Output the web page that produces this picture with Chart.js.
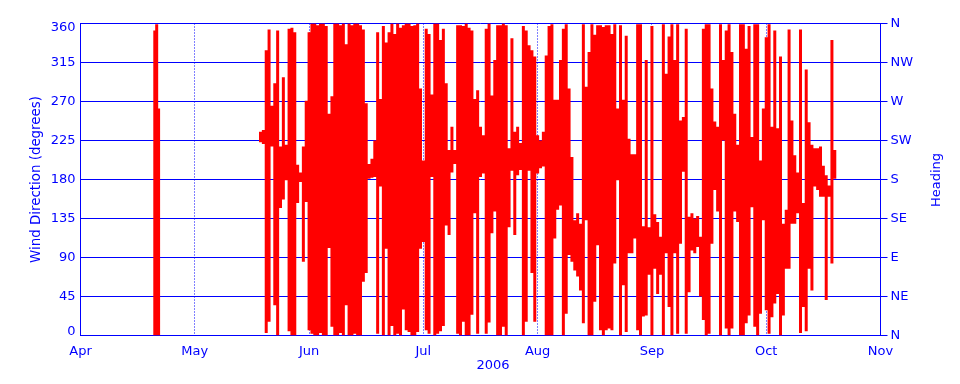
<!DOCTYPE html>
<html>
<head>
<meta charset="utf-8">
<style>
  html, body { margin: 0; padding: 0; background: #fff; }
  canvas { display: block; }
</style>
<script src="https://cdn.jsdelivr.net/npm/chart.js@4/dist/chart.umd.js"></script>
</head>
<body>
<canvas id="myChart" width="960" height="384"></canvas>
<script>
// month axis is evenly spaced in the plot, so 30 units per month
const monthLabels = ['Apr', 'May', 'Jun', 'Jul', 'Aug', 'Sep', 'Oct', 'Nov'];
const directionTicks = ['0', '45', '90', '135', '180', '225', '270', '315', '360'];
const headingTicks = ['N', 'NE', 'E', 'SE', 'S', 'SW', 'W', 'NW', 'N'];

// one entry per sampling interval: day, highest and lowest direction seen in it
const sampleDays = [
  19.5, 20, 20.5,
  47.25, 48, 48.75, 49.5, 50.25, 51, 51.75, 52.5, 53.25, 54, 54.75, 55.5,
  56.25, 57, 57.75, 58.5, 59.25, 60, 60.75, 61.5, 62.25, 63, 63.75, 64.5,
  65.25, 66, 66.75, 67.5, 68.25, 69, 69.75, 70.5, 71.25, 72, 72.75, 73.5,
  74.25, 75, 75.75, 76.5, 77.25, 78, 78.75, 79.5, 80.25, 81, 81.75, 82.5,
  83.25, 84, 84.75, 85.5, 86.25, 87, 87.75, 88.5, 89.25, 90, 90.75, 91.5,
  92.25, 93, 93.75, 94.5, 95.25, 96, 96.75, 97.5, 98.25, 99, 99.75, 100.5,
  101.25, 102, 102.75, 103.5, 104.25, 105, 105.75, 106.5, 107.25, 108, 108.75, 109.5,
  110.25, 111, 111.75, 112.5, 113.25, 114, 114.75, 115.5, 116.25, 117, 117.75, 118.5,
  119.25, 120, 120.75, 121.5, 122.25, 123, 123.75, 124.5, 125.25, 126, 126.75, 127.5,
  128.25, 129, 129.75, 130.5, 131.25, 132, 132.75, 133.5, 134.25, 135, 135.75, 136.5,
  137.25, 138, 138.75, 139.5, 140.25, 141, 141.75, 142.5, 143.25, 144, 144.75, 145.5,
  146.25, 147, 147.75, 148.5, 149.25, 150, 150.75, 151.5, 152.25, 153, 153.75, 154.5,
  155.25, 156, 156.75, 157.5, 158.25, 159, 159.75, 160.5, 161.25, 162, 162.75, 163.5,
  164.25, 165, 165.75, 166.5, 167.25, 168, 168.75, 169.5, 170.25, 171, 171.75, 172.5,
  173.25, 174, 174.75, 175.5, 176.25, 177, 177.75, 178.5, 179.25, 180, 180.75, 181.5,
  182.25, 183, 183.75, 184.5, 185.25, 186, 186.75, 187.5, 188.25, 189, 189.75, 190.5,
  191.25, 192, 192.75, 193.5, 194.25, 195, 195.75, 196.5, 197.25, 198
];
const directionHigh = [
  352, 359, 262,
  235, 237, 329, 353, 265, 291, 352, 218, 298, 220, 354, 355,
  350, 197, 188, 218, 271, 350, 360, 360, 358, 360, 360, 357,
  256, 276, 360, 360, 358, 360, 336, 360, 358, 360, 360, 358,
  353, 268, 198, 204, 225, 350, 273, 357, 338, 350, 360, 348,
  360, 355, 358, 360, 360, 357, 358, 360, 285, 202, 354, 348,
  278, 360, 360, 341, 354, 291, 214, 241, 214, 358, 358, 357,
  360, 355, 352, 273, 283, 241, 231, 354, 360, 277, 318, 358,
  358, 360, 358, 216, 343, 235, 241, 222, 357, 352, 335, 329,
  322, 231, 225, 235, 323, 357, 359, 272, 272, 318, 354, 359,
  285, 206, 133, 141, 129, 359, 287, 327, 359, 347, 358, 358,
  356, 358, 358, 348, 359, 262, 358, 272, 346, 227, 209, 209,
  359, 359, 126, 318, 125, 357, 140, 131, 114, 359, 302, 345,
  359, 318, 359, 248, 252, 354, 137, 141, 135, 138, 114, 354,
  359, 359, 285, 247, 241, 359, 318, 352, 359, 327, 256, 220,
  359, 359, 331, 357, 229, 359, 359, 202, 262, 344, 359, 241,
  352, 239, 322, 129, 145, 353, 248, 208, 188, 353, 153, 307,
  246, 220, 216, 216, 218, 196, 185, 173, 341, 214
];
const directionLow = [
  0, 0, 0,
  223, 221, 3, 16, 218, 35, 0, 147, 157, 179, 5, 0,
  0, 153, 177, 85, 154, 6, 2, 0, 0, 3, 0, 0,
  101, 10, 0, 0, 3, 0, 35, 0, 0, 2, 0, 0,
  62, 72, 181, 182, 183, 2, 172, 0, 100, 0, 11, 0,
  2, 0, 30, 6, 4, 0, 0, 4, 100, 108, 6, 2,
  183, 0, 2, 5, 11, 127, 116, 188, 198, 2, 0, 16,
  0, 0, 24, 141, 2, 183, 187, 2, 15, 118, 143, 0,
  0, 10, 0, 125, 190, 116, 185, 191, 0, 16, 190, 72,
  16, 187, 193, 195, 0, 0, 0, 112, 145, 150, 0, 25,
  93, 85, 75, 68, 52, 14, 133, 0, 0, 39, 104, 6,
  0, 6, 8, 6, 83, 179, 0, 58, 4, 95, 95, 112,
  6, 0, 22, 23, 70, 0, 77, 48, 70, 0, 95, 33,
  0, 95, 2, 106, 189, 2, 50, 98, 95, 102, 45, 18,
  0, 2, 106, 168, 143, 0, 225, 8, 0, 8, 143, 131,
  0, 0, 14, 23, 148, 10, 0, 25, 133, 29, 2, 21,
  37, 48, 0, 23, 77, 77, 129, 129, 141, 3, 33, 5,
  77, 52, 172, 168, 160, 160, 41, 160, 83, 181
];

const BLUE = 'rgb(0,0,255)';
const RED = 'rgb(255,0,0)';
const FONT = { family: '"DejaVu Sans"', size: 13 };

// every sample is its own vertical stroke, nulls keep them from joining up
var points = [];
sampleDays.forEach((day, i) => {
  points.push({ x: day, y: directionHigh[i] });
  points.push({ x: day, y: directionLow[i] });
  points.push({ x: day, y: null });
});

// the bits Chart.js can't place: year off centre, Heading reading upwards,
// and the end labels of the left axis pulled inside the plot
const extraText = {
  id: 'extraText',
  afterDraw(chart) {
    const ctx = chart.ctx;
    const y = chart.scales.y;
    ctx.save();
    ctx.font = '13px "DejaVu Sans"';
    ctx.fillStyle = BLUE;
    ctx.textBaseline = 'middle';
    ctx.textAlign = 'right';
    ctx.fillText(directionTicks[8], 75.5, y.getPixelForValue(360) + 4);
    ctx.fillText(directionTicks[0], 75.5, y.getPixelForValue(0) - 4);
    ctx.textAlign = 'center';
    ctx.fillText('2006', 493, 366);
    ctx.translate(937, 180);
    ctx.rotate(-Math.PI / 2);
    ctx.fillText('Heading', 0, 0);
    ctx.restore();
  }
};

var ctx = document.getElementById('myChart').getContext('2d');
var chart = new Chart(ctx, {
  type: 'line',
  data: {
    datasets: [{
      label: 'Wind Direction',
      data: points,
      borderColor: RED,
      borderWidth: 3,
      borderCapStyle: 'butt',
      borderJoinStyle: 'bevel',
      pointRadius: 0,
      tension: 0,
      spanGaps: false,
      yAxisID: 'y'
    }]
  },
  plugins: [extraText],
  options: {
    responsive: false,
    animation: false,
    events: [],
    layout: { padding: { top: 23.5 } },
    plugins: { legend: { display: false }, tooltip: { enabled: false }, title: { display: false } },
    scales: {
      x: {
        type: 'linear',
        min: 0,
        max: 210,
        afterFit: (s) => { s.height = 48.5; },
        grid: { color: BLUE, lineWidth: 1, drawTicks: false },
        border: { color: BLUE, width: 1, dash: [1, 2] },
        ticks: {
          color: BLUE,
          font: FONT,
          padding: 8,
          stepSize: 30,
          autoSkip: false,
          maxRotation: 0,
          callback: (v) => monthLabels[v / 30]
        }
      },
      y: {
        position: 'left',
        min: 0,
        max: 360,
        afterFit: (s) => { s.width = 80.5; },
        grid: { color: BLUE, lineWidth: 1, drawTicks: false },
        border: { color: BLUE, width: 1 },
        ticks: {
          color: BLUE,
          font: FONT,
          padding: 5,
          stepSize: 45,
          callback: (v) => (v === 0 || v === 360) ? '' : directionTicks[v / 45]
        },
        title: {
          display: true,
          text: 'Wind Direction (degrees)',
          color: BLUE,
          font: { family: '"DejaVu Sans"', size: 13.4 },
          padding: { top: 28, bottom: 0 }
        }
      },
      y2: {
        position: 'right',
        min: 0,
        max: 360,
        afterFit: (s) => { s.width = 79.5; },
        grid: { color: BLUE, lineWidth: 1, drawOnChartArea: false, tickLength: 7 },
        border: { color: BLUE, width: 1 },
        ticks: {
          color: BLUE,
          font: FONT,
          padding: 3,
          stepSize: 45,
          callback: (v) => headingTicks[v / 45]
        }
      }
    }
  }
});
</script>
</body>
</html>
